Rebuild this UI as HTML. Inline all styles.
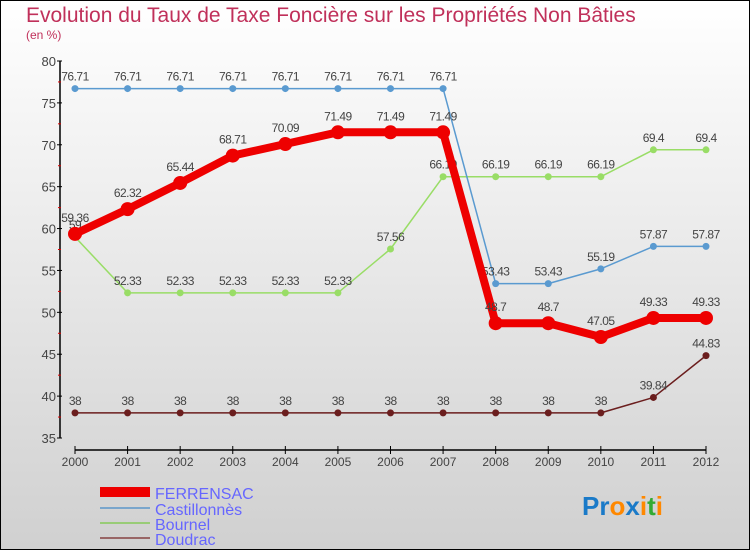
<!DOCTYPE html>
<html><head><meta charset="utf-8"><style>
body{margin:0;}
#c{width:750px;height:550px;position:relative;overflow:hidden;font-family:"Liberation Sans",sans-serif;}
</style></head><body>
<div id="c">
<svg id="s" width="750" height="550" xmlns="http://www.w3.org/2000/svg">
<defs><linearGradient id="bg" x1="0" y1="0" x2="0" y2="1"><stop offset="0" stop-color="#ffffff"/><stop offset="1" stop-color="#d0d0d0"/></linearGradient></defs>
<rect x="0.5" y="0.5" width="749" height="549" fill="url(#bg)" stroke="#000"/>
<text x="26" y="22" font-size="21" fill="#c0305a">Evolution du Taux de Taxe Foncière sur les Propriétés Non Bâties</text>
<text x="26" y="39" font-size="12" fill="#c0305a">(en %)</text>
<g id="axes"></g><g id="series"></g>
<g>
<rect x="100" y="487" width="50" height="10" fill="#e00"/>
<text x="155" y="499" font-size="16" fill="#6666ff">FERRENSAC</text>
<line x1="100" y1="508" x2="150" y2="508" stroke="#7aa6cc" stroke-width="2"/>
<text x="155" y="515" font-size="16" fill="#6666ff">Castillonnès</text>
<line x1="100" y1="523" x2="150" y2="523" stroke="#99cc77" stroke-width="2"/>
<text x="155" y="530" font-size="16" fill="#6666ff">Bournel</text>
<line x1="100" y1="538" x2="150" y2="538" stroke="#996666" stroke-width="2"/>
<text x="155" y="545" font-size="16" fill="#6666ff">Doudrac</text>
</g>
<text x="582" y="515" font-size="26" font-weight="bold"><tspan fill="#1a7ac8">Pr</tspan><tspan fill="#ff8800">o</tspan><tspan fill="#1a7ac8">x</tspan><tspan fill="#ff8800">i</tspan><tspan fill="#33aa33">t</tspan><tspan fill="#ff8800">i</tspan></text>
</svg>
</div>
<script>
const years=[2000,2001,2002,2003,2004,2005,2006,2007,2008,2009,2010,2011,2012];
const yTicks=[35,40,45,50,55,60,65,70,75,80];
const ferrensac=[59.36,62.32,65.44,68.71,70.09,71.49,71.49,71.49,48.7,48.7,47.05,49.33,49.33];
const castillonnes=[76.71,76.71,76.71,76.71,76.71,76.71,76.71,76.71,53.43,53.43,55.19,57.87,57.87];
const bournel=[59.0,52.33,52.33,52.33,52.33,52.33,57.56,66.19,66.19,66.19,66.19,69.4,69.4];
const doudrac=[38,38,38,38,38,38,38,38,38,38,38,39.84,44.83];
const NS="http://www.w3.org/2000/svg";
const X=i=>75+i*(706-75)/(years.length-1);
const Y=v=>438-(v-35)*(438-61)/45;
function mk(t,a,p){const e=document.createElementNS(NS,t);for(const k in a)e.setAttribute(k,a[k]);p.appendChild(e);return e;}
const ax=document.getElementById('axes');
const yaxis=mk('line',{x1:60,y1:61,x2:60,y2:438,stroke:'#000','stroke-width':1.5},ax);


yTicks.forEach(v=>{
 mk('line',{x1:57,y1:Y(v),x2:62,y2:Y(v),stroke:'#000'},ax);
 if(v<80)mk('line',{x1:58,y1:Y(v+2.5),x2:61,y2:Y(v+2.5),stroke:'#d00'},ax);
 const t=mk('text',{x:56,y:Y(v)+5,'font-size':13,fill:'#444','text-anchor':'end'},ax);t.textContent=v;
 
 
});
const xaxis=mk('line',{x1:75,y1:450,x2:706,y2:450,stroke:'#000','stroke-width':1.5},ax);


years.forEach((y,i)=>{
 mk('line',{x1:X(i),y1:446,x2:X(i),y2:454,stroke:'#000'},ax);
 const t=mk('text',{x:X(i),y:466,'font-size':12,fill:'#444','text-anchor':'middle'},ax);t.textContent=y;
 
 
});
const sg=document.getElementById('series');
function draw(data,color,w,r,name,dy){
 const g=mk('g',{},sg);
 
 
 const pl=mk('polyline',{points:data.map((v,i)=>X(i)+','+Y(v)).join(' '),fill:'none',stroke:color,'stroke-width':w,'stroke-linejoin':'round'},g);
 
 
 data.forEach((v,i)=>{
  const c=mk('circle',{cx:X(i),cy:Y(v),r:r,fill:color},g);
  
  
  const t=mk('text',{x:X(i),y:Y(v)+dy,'font-size':12,fill:'#444','text-anchor':'middle','letter-spacing':'-0.5'},g);
  t.textContent=String(v);
  
  
 });
}
draw(doudrac,'#6b1e1e',1.5,3.5,'doudrac',-8);
draw(bournel,'#99dd66',1.5,3.5,'bournel',-8);
draw(castillonnes,'#5a9ad0',1.5,3.5,'castillonnes',-8);
draw(ferrensac,'#ee0000',8,7,'ferrensac',-12);
</script>
</body></html>
